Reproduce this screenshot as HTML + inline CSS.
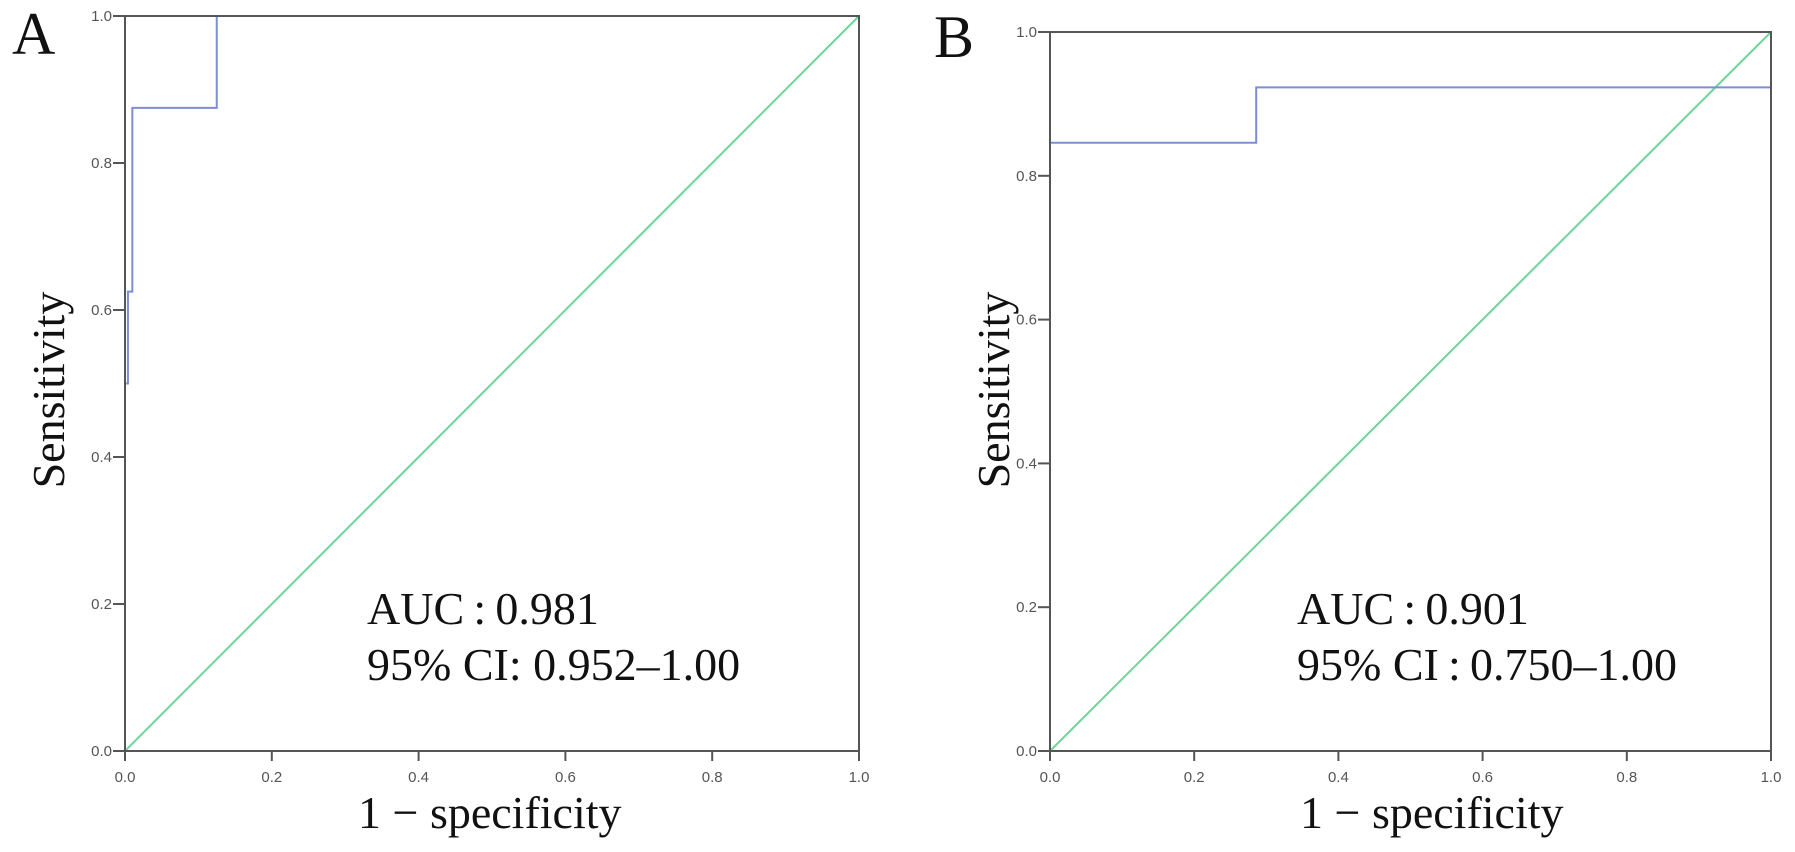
<!DOCTYPE html>
<html><head><meta charset="utf-8"><style>
html,body{margin:0;padding:0;background:#fff;}
svg{display:block;}
.tick{font-family:"Liberation Sans",Arial,sans-serif;font-size:15px;fill:#555;}
.ser{font-family:"Liberation Serif","Times New Roman",serif;fill:#111;}
</style></head><body>
<svg id="chart" width="1795" height="852" viewBox="0 0 1795 852"></svg>
<script>
const ticks = [0, 0.2, 0.4, 0.6, 0.8, 1.0];
const tickLabels = ["0.0","0.2","0.4","0.6","0.8","1.0"];
const rocA_fpr = [0, 0, 0.004, 0.004, 0.01, 0.01, 0.125, 0.125, 1];
const rocA_tpr = [0, 0.5, 0.5, 0.625, 0.625, 0.875, 0.875, 1, 1];
const rocB_fpr = [0, 0, 0.286, 0.286, 1, 1];
const rocB_tpr = [0, 0.846, 0.846, 0.923, 0.923, 1];
const refLine = [0, 1];
const panels = [
  {id:'a', letter:'A', L:125, R:859, T:16, B:751, fpr:rocA_fpr, tpr:rocA_tpr, lx:12, ly:54, sx:64, auc:'AUC\u2009:\u20090.981', ci:'95% CI: 0.952\u20131.00', ax:367, xl:358},
  {id:'b', letter:'B', L:1050, R:1771, T:32, B:751, fpr:rocB_fpr, tpr:rocB_tpr, lx:934, ly:57, sx:1009, auc:'AUC\u2009:\u20090.901', ci:'95% CI\u2009:\u20090.750\u20131.00', ax:1297, xl:1300}
];
const NS='http://www.w3.org/2000/svg';
const svg=document.getElementById('chart');
function mk(tag, attrs, parent){const e=document.createElementNS(NS,tag);for(const k in attrs)e.setAttribute(k,attrs[k]);(parent||svg).appendChild(e);return e;}
panels.forEach(p=>{
  const g=mk('g',{});
  
  
  const xs=v=>p.L+v*(p.R-p.L), ys=v=>p.B-v*(p.B-p.T);
  const d=mk('line',{x1:xs(refLine[0]),y1:ys(refLine[0]),x2:xs(refLine[1]),y2:ys(refLine[1]),stroke:'#6fd49b','stroke-width':2},g);
  
  
  const pts=p.fpr.map((f,i)=>xs(f)+','+ys(p.tpr[i])).join(' ');
  const c=mk('polyline',{points:pts,fill:'none',stroke:'#7c8ed4','stroke-width':2},g);
  
  
  const f=mk('rect',{x:p.L,y:p.T,width:p.R-p.L,height:p.B-p.T,fill:'none',stroke:'#555','stroke-width':2},g);
  
  
  ticks.forEach((t,i)=>{
    mk('line',{x1:xs(t),y1:p.B,x2:xs(t),y2:p.B+10,stroke:'#555','stroke-width':2},g);
    const xt=mk('text',{x:xs(t),y:p.B+31,'text-anchor':'middle',class:'tick'},g);
    xt.textContent=tickLabels[i];
    
    
    mk('line',{x1:p.L-12,y1:ys(t),x2:p.L,y2:ys(t),stroke:'#555','stroke-width':2},g);
    const yt=mk('text',{x:p.L-13,y:ys(t)+5,'text-anchor':'end',class:'tick'},g);
    yt.textContent=tickLabels[i];
    
    
  });
  const lt=mk('text',{x:p.lx,y:p.ly,class:'ser','font-size':60},g);
  lt.textContent=p.letter;
  
  
  const yl=mk('text',{transform:`translate(${p.sx},390) rotate(-90)`,'text-anchor':'middle',class:'ser','font-size':46},g);
  yl.textContent='Sensitivity';
  
  
  const xl=mk('text',{x:p.xl,y:828,class:'ser','font-size':46},g);
  xl.textContent='1 \u2212 specificity';
  
  
  const a1=mk('text',{x:p.ax,y:624,class:'ser','font-size':46},g);
  a1.textContent=p.auc;
  
  
  const a2=mk('text',{x:p.ax,y:680,class:'ser','font-size':46},g);
  a2.textContent=p.ci;
  
  
});
</script>
</body></html>
